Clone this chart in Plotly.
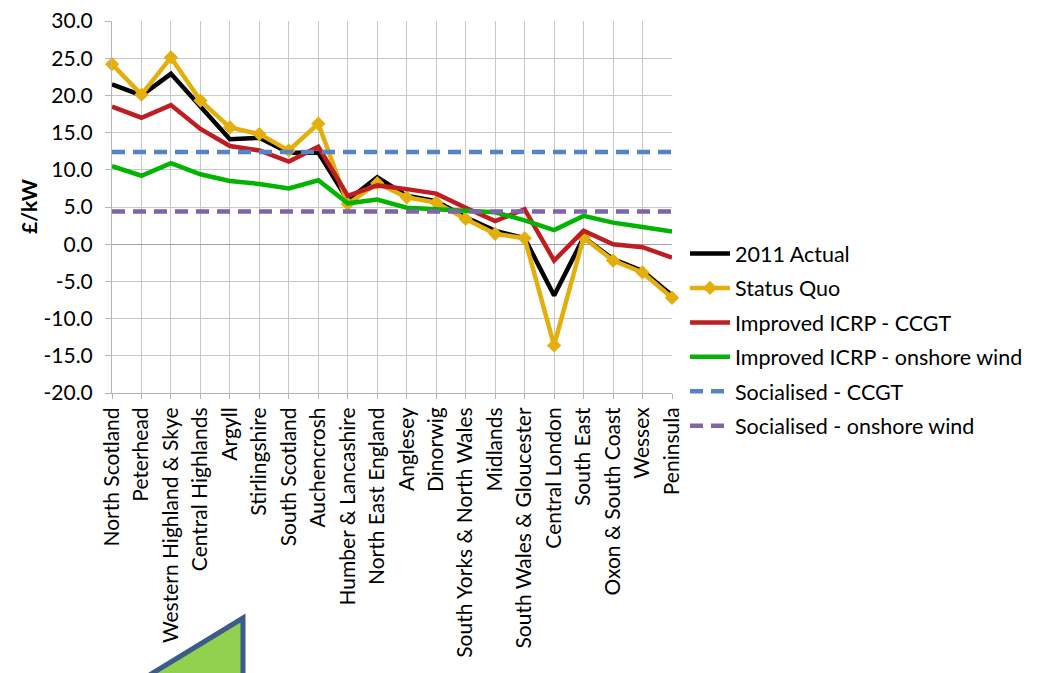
import plotly.graph_objects as go

categories = ["North Scotland", "Peterhead", "Western Highland & Skye", "Central Highlands",
              "Argyll", "Stirlingshire", "South Scotland", "Auchencrosh",
              "Humber & Lancashire", "North East England", "Anglesey", "Dinorwig",
              "South Yorks & North Wales", "Midlands", "South Wales & Gloucester",
              "Central London", "South East", "Oxon & South Coast", "Wessex", "Peninsula"]

actual_2011 = [21.5, 20.0, 22.9, 18.6, 14.1, 14.3, 12.3, 12.3, 5.9, 9.0,
               6.5, 5.8, 3.6, 1.8, 0.8, -6.9, 0.9, -2.0, -3.6, -6.9]
status_quo = [24.2, 20.1, 25.1, 19.3, 15.7, 14.8, 12.6, 16.2, 5.4, 8.2,
              6.3, 5.6, 3.4, 1.4, 0.8, -13.6, 0.9, -2.2, -3.8, -7.2]
icrp_ccgt = [18.5, 17.0, 18.7, 15.5, 13.2, 12.6, 11.1, 13.1, 6.5, 7.9,
             7.4, 6.8, 4.9, 3.1, 4.7, -2.2, 1.8, 0.0, -0.4, -1.8]
icrp_wind = [10.5, 9.2, 10.9, 9.4, 8.5, 8.1, 7.5, 8.6, 5.5, 6.0,
             4.9, 4.7, 4.6, 4.3, 3.2, 1.9, 3.8, 2.9, 2.3, 1.7]
socialised_ccgt = [12.4] * len(categories)
socialised_wind = [4.4] * len(categories)

y_tick_values = [30, 25, 20, 15, 10, 5, 0, -5, -10, -15, -20]
y_tick_labels = ["30.0", "25.0", "20.0", "15.0", "10.0", "5.0", "0.0",
                 "-5.0", "-10.0", "-15.0", "-20.0"]

FONT = "Lato, 'DejaVu Sans', sans-serif"

fig = go.Figure()
fig.add_trace(go.Scatter(x=categories, y=actual_2011, name="2011 Actual", mode="lines",
                         legendgroup="a",
                         line=dict(color="#000000", width=4.5), cliponaxis=False))
fig.add_trace(go.Scatter(x=categories, y=status_quo, name="Status Quo", mode="lines+markers",
                         legendgroup="b",
                         line=dict(color="#E3AF0C", width=4.5),
                         marker=dict(symbol="diamond", size=11, color="#E3AF0C"),
                         cliponaxis=False))
fig.add_trace(go.Scatter(x=categories, y=icrp_ccgt, name="Improved ICRP - CCGT", mode="lines",
                         legendgroup="c",
                         line=dict(color="#BE1E22", width=4.5), cliponaxis=False))
fig.add_trace(go.Scatter(x=categories, y=icrp_wind, name="Improved ICRP - onshore wind", mode="lines",
                         legendgroup="d",
                         line=dict(color="#00B400", width=4.5), cliponaxis=False))
fig.add_trace(go.Scatter(x=categories, y=socialised_ccgt, name="Socialised - CCGT", mode="lines",
                         legendgroup="e",
                         line=dict(color="#5585C5", width=4.5, dash="13px,8px"), cliponaxis=False))
fig.add_trace(go.Scatter(x=categories, y=socialised_wind, name="Socialised - onshore wind", mode="lines",
                         legendgroup="f",
                         line=dict(color="#8064A8", width=4.5, dash="13px,8px"), cliponaxis=False))

W, H = 1037, 673
L, R, T, B = 112, 365, 21, 280
pw = W - L - R
ph = H - T - B

fig.update_layout(
    width=W, height=H,
    margin=dict(l=L, r=R, t=T, b=B, pad=0, autoexpand=False),
    paper_bgcolor="white", plot_bgcolor="white",
    font=dict(family=FONT, color="#000000"),
    showlegend=True,
    legend=dict(x=(685 - L) / pw, y=(393 - 233) / ph, xanchor="left", yanchor="top",
                font=dict(size=21.5, family=FONT), bgcolor="rgba(0,0,0,0)",
                itemwidth=40, tracegroupgap=3.5),
    xaxis=dict(type="category", range=[0, len(categories) - 1], automargin=False,
               showgrid=True, gridcolor="#C8C8C8", gridwidth=1,
               showline=True, linecolor="#B4B4B4", linewidth=1,
               ticks="outside", ticklen=5, tickcolor="#B4B4B4",
               tickangle=-90, tickfont=dict(size=21, family=FONT), mirror=False),
    yaxis=dict(range=[-20, 30], tickvals=y_tick_values, ticktext=y_tick_labels,
               automargin=False,
               showgrid=True, gridcolor="#C8C8C8", gridwidth=1,
               zeroline=True, zerolinecolor="#A0A0A0", zerolinewidth=1,
               showline=True, linecolor="#B4B4B4", linewidth=1,
               ticks="outside", ticklen=6, tickcolor="#B4B4B4",
               ticklabelstandoff=8,
               tickfont=dict(size=21, family=FONT)),
)

fig.add_annotation(text="<b>£/kW</b>", textangle=-90, xref="paper", yref="paper",
                   x=(28 - L) / pw, y=(393 - 207) / ph, showarrow=False,
                   font=dict(size=21, family=FONT), xanchor="center", yanchor="middle")

# decorative triangle shape at the bottom-left
def px(xp):
    return (xp - L) / pw

def py(yp):
    return (H - B - yp) / ph

fig.add_shape(type="path", xref="paper", yref="paper",
              path=f"M {px(243)} {py(618)} L {px(243)} {py(690)} L {px(125)} {py(690)} Z",
              fillcolor="#92D050", line=dict(color="#3C5A8A", width=5), layer="above")

fig.write_html("out.html",
               config={"displayModeBar": False, "staticPlot": True},
               post_script="document.body.style.margin='0';document.body.style.overflow='hidden';")
